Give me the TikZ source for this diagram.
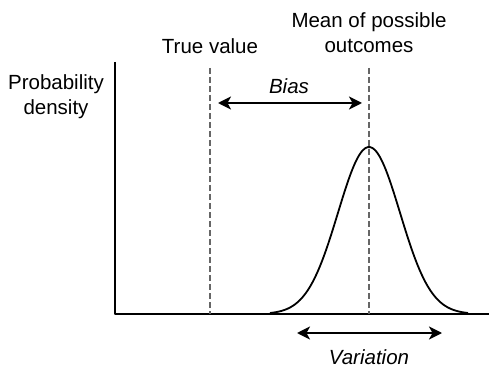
\documentclass[tikz,border=0pt]{standalone}
\usepackage{fontspec}
\setmainfont{Liberation Sans}
\usetikzlibrary{arrows.meta}

\begin{document}
\begin{tikzpicture}[line cap=butt,line join=round,x=1pt,y=-1pt,
  >={Stealth[length=13pt,width=13pt,inset=3.5pt]},
  lbl/.style={font=\fontsize{20.5}{25}\selectfont,align=center,inner sep=0pt},
  axis/.style={line width=2pt,black},
  guide/.style={line width=1.5pt,color=black!60,dash pattern=on 6pt off 3pt},
  span/.style={<->,line width=2pt}]
\useasboundingbox (0,0) rectangle (489,371);
%akselit
\coordinate (top) at (115,62);
\coordinate (origin) at (115,314);
\coordinate (right) at (489,314);
\draw[axis] (top)--(origin)--(right);
%katkoviivat
\coordinate (true top) at (210,68);
\coordinate (true bot) at (210,314);
\coordinate (mean top) at (369,68);
\coordinate (mean bot) at (369,314);
\draw[guide] (true top)--(true bot);
\draw[guide] (mean top)--(mean bot);
%tiheysfunktio
\draw[line width=1.8pt,smooth,samples=80,domain=270:468]
  plot (\x,{314-167*exp(-((\x-369)^2)/(2*31^2))});
%tekstit
\node[lbl] (density) at (56,97) {Probability\\density};
\node[lbl] (truev) at (210,46) {True value};
\node[lbl] (mean) at (369,33) {Mean of possible\\outcomes};
\node[lbl,font=\fontsize{20.5}{25}\selectfont\itshape] (bias) at (289,86) {Bias};
\node[lbl,font=\fontsize{20.5}{25}\selectfont\itshape] (variation) at (369,357) {Variation};
%nuolet
\coordinate (bias l) at (218,103);
\coordinate (bias r) at (362,103);
\draw[span] (bias l)--(bias r);
\coordinate (var l) at (297,333);
\coordinate (var r) at (442,333);
\draw[span] (var l)--(var r);
\end{tikzpicture}
\end{document}
